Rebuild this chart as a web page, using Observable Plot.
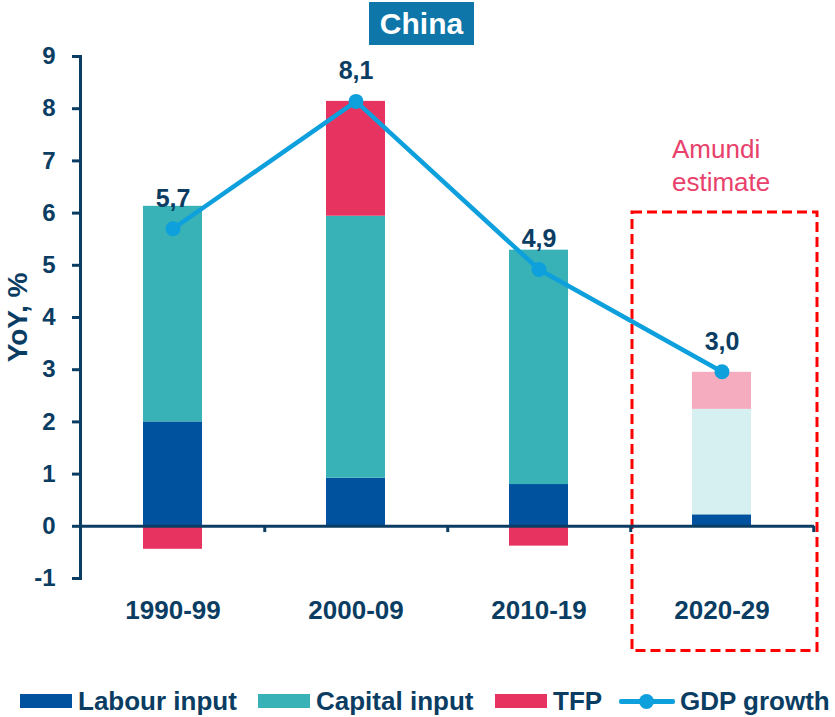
<!DOCTYPE html>
<html>
<head>
<meta charset="utf-8">
<script src="https://cdn.jsdelivr.net/npm/d3@7"></script>
<script src="https://cdn.jsdelivr.net/npm/@observablehq/plot@0.6"></script>
<style>
  html, body { margin: 0; padding: 0; background: #fff; }
  #wrap { position: relative; width: 835px; height: 717px; font-family: Arial, "Liberation Sans", sans-serif; overflow: hidden; }
  #title { position: absolute; left: 369px; top: 2px; width: 105px; height: 43px; background: #0e76a8; color: #fff;
           font-weight: bold; font-size: 30px; display: flex; align-items: center; justify-content: center; }
  .leg { position: absolute; top: 686px; height: 30px; display: flex; align-items: center; font-weight: bold; font-size: 26px; color: #0b3d63; white-space: nowrap; }
  .sw { width: 52px; height: 14px; margin-right: 6px; }
  .ln { position: relative; width: 56px; height: 14px; margin-right: 5px; }
  .ln::before { content: ""; position: absolute; left: 0; right: 0; top: 5px; height: 4.5px; background: #0ea0dc; border-radius: 2px; }
  .ln::after { content: ""; position: absolute; left: 20px; top: 0; width: 15px; height: 15px; border-radius: 50%; background: #0ea0dc; }
</style>
</head>
<body>
<div id="wrap">
  <div id="chart"></div>
  <div id="title">China</div>
  <div id="legend"></div>
</div>
<script>
// ---- data ----
const categories = ["1990-99", "2000-09", "2010-19", "2020-29"];
const labour  = [2.00, 0.92, 0.80, 0.22];
const capital = [4.13, 5.02, 4.49, 2.02];
const tfp     = [-0.44, 2.20, -0.38, 0.71];
const gdp     = [5.70, 8.14, 4.92, 2.96];
const gdpLabels = ["5,7", "8,1", "4,9", "3,0"];
const estimated = [false, false, false, true];
const seriesNames = ["Labour input", "Capital input", "TFP", "GDP growth"];
const yTicks = [-1, 0, 1, 2, 3, 4, 5, 6, 7, 8, 9];
const yLabel = "YoY, %";
const estimateCategory = "2020-29";
const estimateText = "Amundi\nestimate";

// ---- styles ----
const axisColor = "#0b3d63";
const seriesColors = {
  "Labour input":  ["#00519e", "#00519e"],
  "Capital input": ["#38b2b6", "#d6f0f1"],
  "TFP":           ["#e6335f", "#f5acbe"],
  "GDP growth":    ["#0ea0dc", "#0ea0dc"]
};

const W = 835, H = 670, mL = 80, mR = 21, mT = 56, mB = 92;
const step = (W - mL - mR) / categories.length;

const rows = [];
categories.forEach((c, i) => {
  [[seriesNames[0], labour[i]], [seriesNames[1], capital[i]], [seriesNames[2], tfp[i]]].forEach(([s, v]) => {
    rows.push({cat: c, series: s, value: v, color: seriesColors[s][estimated[i] ? 1 : 0]});
  });
});
const gdpRows = categories.map((c, i) => ({cat: c, gdp: gdp[i], label: gdpLabels[i]}));
const boxRows = [{cat: estimateCategory, y1: -2.39, y2: 6.01}];
const noteRows = [{cat: estimateCategory, y: 6.94, text: estimateText}];
const yLabelRows = [{y: 4, text: yLabel}];

const chart = Plot.plot({
  width: W, height: H,
  marginLeft: mL, marginRight: mR, marginTop: mT, marginBottom: mB,
  style: {fontFamily: 'Arial, "Liberation Sans", sans-serif', background: "transparent", overflow: "visible"},
  x: {domain: categories, paddingInner: 0.678, paddingOuter: 0.339},
  y: {domain: [-1, 9]},
  color: {type: "identity"},
  marks: [
    Plot.barY(rows, {x: "cat", y: "value", fill: "color"}),
    Plot.barY(boxRows, {x: "cat", y1: "y1", y2: "y2", fill: "none", stroke: "#ff0000", strokeWidth: 3, strokeDasharray: "10,5", insetLeft: -60, insetRight: -66}),
    Plot.ruleY([0], {stroke: axisColor, strokeWidth: 3}),
    Plot.ruleX(categories, {x: d => d, y1: 0, y2: -0.12, dx: step / 2, stroke: axisColor, strokeWidth: 3}),
    Plot.frame({anchor: "left", stroke: axisColor, strokeWidth: 3}),
    Plot.axisY({ticks: yTicks, tickSize: 8, tickPadding: 17, tickFormat: d => String(d), fontSize: 24, fontWeight: "bold",
                color: axisColor, strokeWidth: 3, label: null}),
    Plot.axisX({tickSize: 0, tickPadding: 22, fontSize: 26, fontWeight: "bold", color: axisColor, label: null}),
    Plot.text(yLabelRows, {y: "y", text: "text", frameAnchor: "left", textAnchor: "middle", dx: -62, rotate: -90, fontSize: 28, fontWeight: "bold", fill: axisColor}),
    Plot.line(gdpRows, {x: "cat", y: "gdp", stroke: seriesColors["GDP growth"][0], strokeWidth: 4.5}),
    Plot.dot(gdpRows, {x: "cat", y: "gdp", r: 7.5, fill: seriesColors["GDP growth"][0]}),
    Plot.text(gdpRows, {x: "cat", y: "gdp", text: "label", dy: -30, fontSize: 25, fontWeight: "bold", fill: axisColor}),
    Plot.text(noteRows, {x: "cat", y: "y", text: "text", textAnchor: "start", dx: -50, fontSize: 26, lineHeight: 1.27, fill: "#e8416b"})
  ]
});
document.getElementById("chart").appendChild(chart);

// ---- legend ----
const legendLeft = [20, 258, 495, 619];
const legend = document.getElementById("legend");
seriesNames.forEach((s, i) => {
  const item = document.createElement("div");
  item.className = "leg";
  item.style.left = legendLeft[i] + "px";
  const mark = document.createElement("div");
  if (s === "GDP growth") { mark.className = "ln"; }
  else { mark.className = "sw"; mark.style.background = seriesColors[s][0]; }
  item.appendChild(mark);
  const label = document.createElement("span");
  label.textContent = s;
  item.appendChild(label);
  legend.appendChild(item);
});
</script>
</body>
</html>
